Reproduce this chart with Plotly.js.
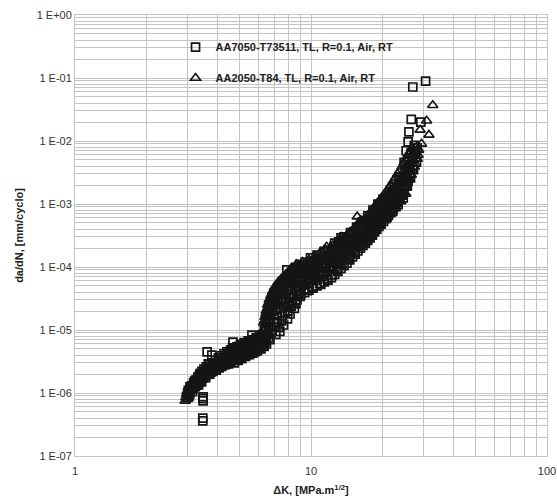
<!DOCTYPE html>
<html>
<head>
<meta charset="utf-8">
<script src="https://cdn.plot.ly/plotly-3.0.1.min.js"></script>
<style>html,body{margin:0;padding:0;background:#fff;}#chart{width:557px;height:498px;}</style>
</head>
<body>
<div id="chart"></div>
<script>
// Series names
const name7050 = "AA7050-T73511, TL, R=0.1, Air, RT";
const name2050 = "AA2050-T84, TL, R=0.1, Air, RT";

// AA7050-T73511 (squares): ΔK [MPa.m^1/2]
const k7050 = [
  3.00,3.05,3.08,3.12,3.15,3.18,3.22,3.25,3.28,3.32,3.35,3.38,3.42,3.45,3.48,3.52,3.55,3.60,3.63,3.65,
  3.70,3.75,3.80,3.82,3.88,3.93,4.00,4.05,4.10,4.16,4.22,4.28,4.33,4.40,4.45,4.50,4.56,4.62,4.67,4.70,
  4.76,4.82,4.88,4.95,5.00,5.06,5.12,5.18,5.25,5.32,5.38,5.45,5.52,5.58,5.62,5.68,5.75,5.82,5.90,5.96,
  6.02,6.10,6.18,6.25,3.49,3.49,3.49,3.48,3.48,
  6.30,6.35,6.40,6.45,6.50,6.55,6.60,6.65,6.70,6.75,6.80,6.85,6.90,6.95,7.00,7.05,7.10,7.15,7.20,7.25,
  7.30,7.35,7.40,7.45,7.50,7.55,7.60,7.65,7.70,7.75,7.80,7.85,7.90,7.95,8.00,8.05,8.10,8.15,8.20,8.28,
  8.35,8.42,8.50,8.58,8.65,8.72,8.80,8.88,8.96,9.05,9.15,
  9.25,9.35,9.45,9.55,9.65,9.75,9.85,9.95,10.05,10.15,10.3,10.45,10.6,10.75,10.9,11.05,11.2,11.35,11.5,11.7,
  11.9,12.1,12.3,12.5,12.7,12.9,13.1,13.3,13.5,13.8,14.1,14.4,14.7,15.0,15.3,15.6,15.9,16.2,16.5,16.8,
  17.1,17.4,17.7,18.0,18.3,18.6,18.9,19.2,19.5,19.8,
  20.2,20.6,21.0,21.4,21.8,22.2,22.6,23.0,23.4,23.8,24.2,24.6,25.0,25.4,25.8,26.0,26.2,26.6,26.6,27.0,
  27.0,27.4,27.8,28.2,29.2,30.6,25.8,24.8,25.3,
  3.02,3.07,3.13,3.17,3.21,3.24,3.30,3.34,3.37,3.41,
  3.44,3.50,3.54,3.58,3.62,3.67,3.72,3.77,3.84,3.90,
  3.97,4.03,4.08,4.13,4.19,4.26,4.31,4.37,4.43,4.48,
  4.53,4.59,4.65,4.73,4.79,4.85,4.91,4.98,5.03,5.09,
  5.15,5.21,5.28,5.35,5.42,5.49,5.55,5.65,5.72,5.79,
  5.86,5.93,6.00,6.07,6.14,6.21,
  6.33,6.42,6.48,6.58,6.63,6.72,6.78,6.88,6.98,7.08,
  7.18,7.28,7.38,7.48,7.58,7.68,7.78,7.88,7.98,8.08,
  8.18,8.25,8.32,8.45,8.55,8.62,8.75,8.85,8.92,9.00,
  9.10,9.20,9.40,9.60,9.80,10.0,10.2,10.4,10.55,10.8,
  11.0,11.25,11.45,11.6,11.8,12.0,12.2,12.4,12.6,12.8,
  13.0,13.2,13.4,13.65,13.95,14.25,14.55,14.85,15.15,15.45,
  15.75,16.05,16.35,16.65,16.95,17.25,17.55,17.85,18.15,18.45,
  18.75,19.05,19.35,19.65,20.0,20.4,20.8,21.2,21.6,22.0,
  22.4,22.8,23.2,23.6,24.0,24.4,24.8,25.2,25.6,26.0,
  26.4,26.8,27.2,27.6,28.0,
  8.6,9.0,9.4,9.8,10.2,10.6,11.0,11.4,11.8,12.2,
  12.6,13.0,13.4,13.8,14.2,14.6,15.0,15.4,15.8,16.2,
  16.6,17.0,17.4,17.8,18.2,18.6,19.0,19.4,19.8,20.3,
  20.8,21.3,21.8,22.3,22.8,23.3,23.8,24.3,24.8,25.3,
  25.8,26.3,
  8.8,9.2,9.6,10.0,10.4,10.8,11.2,11.6,12.0,12.4,
  12.8,13.2,13.6,14.0,14.4,14.8,15.2,15.6,16.0,16.4,
  16.8,17.2,17.6,18.0,18.4,18.8,19.2,19.6,20.0,20.5,
  21.0,21.5,22.0,22.5,23.0,23.5,24.0,24.5,25.0,25.5
];
// AA7050-T73511 (squares): da/dN [mm/cycle]
const da7050 = [
  1.0e-6,9.0e-7,1.15e-6,1.3e-6,1.05e-6,1.45e-6,1.25e-6,1.6e-6,1.35e-6,1.8e-6,1.5e-6,2.0e-6,1.6e-6,2.2e-6,1.75e-6,2.4e-6,1.9e-6,2.6e-6,4.5e-6,2.1e-6,
  2.8e-6,2.3e-6,4.0e-6,3.0e-6,2.5e-6,3.3e-6,2.7e-6,3.6e-6,2.9e-6,3.9e-6,3.1e-6,4.2e-6,3.3e-6,4.5e-6,3.0e-6,3.8e-6,4.8e-6,3.4e-6,6.4e-6,4.2e-6,
  5.1e-6,3.6e-6,4.6e-6,5.5e-6,3.9e-6,4.9e-6,5.9e-6,4.2e-6,5.3e-6,6.2e-6,4.5e-6,5.6e-6,6.6e-6,4.8e-6,8.3e-6,5.9e-6,7.0e-6,5.1e-6,6.3e-6,7.6e-6,
  5.4e-6,6.8e-6,8.4e-6,5.8e-6,8.7e-7,8.1e-7,7.5e-7,4.0e-7,3.6e-7,
  7.5e-6,1.0e-5,6.5e-6,1.3e-5,8.5e-6,1.7e-5,1.1e-5,2.3e-5,7.0e-6,1.5e-5,2.8e-5,1.0e-5,2.0e-5,3.4e-5,1.3e-5,2.6e-5,8.5e-6,4.0e-5,1.7e-5,3.2e-5,
  1.1e-5,4.7e-5,2.2e-5,3.8e-5,1.4e-5,5.5e-5,2.8e-5,1.2e-5,4.4e-5,1.9e-5,6.2e-5,3.3e-5,9.0e-5,1.5e-5,5.0e-5,2.4e-5,7.0e-5,1.8e-5,3.8e-5,8.0e-5,
  2.8e-5,5.6e-5,2.2e-5,9.5e-5,4.2e-5,3.0e-5,7.0e-5,4.6e-5,1.1e-4,3.6e-5,6.2e-5,
  9.0e-5,4.5e-5,1.2e-4,6.5e-5,4.2e-5,1.0e-4,5.5e-5,1.4e-4,7.5e-5,4.8e-5,1.15e-4,6.2e-5,1.55e-4,8.5e-5,5.5e-5,1.3e-4,7.2e-5,1.75e-4,9.5e-5,6.5e-5,
  1.5e-4,1.05e-4,7.5e-5,2.1e-4,1.3e-4,9.0e-5,2.5e-4,1.6e-4,1.1e-4,3.0e-4,1.9e-4,1.35e-4,3.5e-4,2.3e-4,1.7e-4,4.3e-4,2.9e-4,2.2e-4,5.2e-4,3.6e-4,
  2.7e-4,6.5e-4,4.4e-4,3.3e-4,8.0e-4,5.5e-4,4.1e-4,1.0e-3,6.8e-4,5.0e-4,
  1.2e-3,8.2e-4,6.2e-4,1.5e-3,1.0e-3,7.6e-4,1.9e-3,1.3e-3,9.8e-4,2.6e-3,1.7e-3,1.25e-3,3.3e-3,2.2e-3,5.0e-3,1.4e-2,3.0e-3,6.5e-3,2.2e-2,7.2e-2,
  4.0e-3,8.5e-3,5.5e-3,7.8e-3,2.0e-2,8.9e-2,9.7e-3,4.6e-3,7.0e-3,
  1.1e-6,1.25e-6,1.15e-6,1.3e-6,1.55e-6,1.4e-6,1.65e-6,1.35e-6,1.85e-6,2.05e-6,
  1.5e-6,1.9e-6,2.15e-6,1.75e-6,2.35e-6,2.9e-6,2.0e-6,2.6e-6,2.2e-6,2.85e-6,
  2.3e-6,3.0e-6,2.5e-6,3.4e-6,2.65e-6,3.7e-6,2.8e-6,3.5e-6,4.0e-6,2.9e-6,
  4.3e-6,3.1e-6,5.2e-6,3.0e-6,4.5e-6,5.4e-6,3.3e-6,4.9e-6,5.8e-6,3.5e-6,
  5.2e-6,6.3e-6,3.8e-6,5.0e-6,6.7e-6,4.1e-6,5.3e-6,7.0e-6,4.4e-6,6.0e-6,
  7.5e-6,4.7e-6,6.0e-6,8.0e-6,5.0e-6,6.8e-6,
  5.5e-6,9.5e-6,6.0e-6,1.4e-5,7.5e-6,1.9e-5,9.0e-6,2.5e-5,1.1e-5,2.1e-5,
  1.35e-5,2.5e-5,9.5e-6,3.0e-5,1.7e-5,3.6e-5,2.3e-5,4.2e-5,2.0e-5,3.2e-5,
  5.8e-5,2.4e-5,4.6e-5,3.4e-5,6.8e-5,2.7e-5,5.0e-5,3.8e-5,8.2e-5,4.2e-5,
  7.5e-5,5.2e-5,7.8e-5,9.0e-5,6.8e-5,1.15e-4,9.5e-5,7.2e-5,1.25e-4,1.05e-4,
  7.8e-5,1.4e-4,1.15e-4,8.5e-5,1.85e-4,1.25e-4,9.5e-5,1.7e-4,2.4e-4,1.15e-4,
  1.9e-4,1.3e-4,2.9e-4,2.1e-4,1.6e-4,2.5e-4,1.9e-4,2.8e-4,2.0e-4,3.4e-4,
  2.5e-4,3.8e-4,2.8e-4,4.3e-4,3.2e-4,5.2e-4,3.8e-4,5.6e-4,4.3e-4,6.8e-4,
  5.0e-4,8.0e-4,5.8e-4,8.8e-4,6.5e-4,1.0e-3,7.2e-4,1.2e-3,8.8e-4,1.35e-3,
  1.0e-3,1.6e-3,1.15e-3,2.0e-3,1.4e-3,2.3e-3,1.7e-3,2.7e-3,2.0e-3,4.0e-3,
  2.6e-3,5.0e-3,3.5e-3,6.8e-3,4.6e-3,
  2.6e-5,3.4e-5,3.9e-5,4.3e-5,4.6e-5,5.0e-5,5.3e-5,5.8e-5,6.2e-5,6.8e-5,
  7.6e-5,8.5e-5,9.5e-5,1.05e-4,1.15e-4,1.3e-4,1.45e-4,1.6e-4,1.8e-4,2.0e-4,
  2.2e-4,2.4e-4,2.65e-4,2.9e-4,3.2e-4,3.6e-4,4.0e-4,4.4e-4,4.8e-4,5.3e-4,
  5.9e-4,6.6e-4,7.4e-4,8.2e-4,9.2e-4,1.05e-3,1.2e-3,1.4e-3,1.65e-3,1.95e-3,
  2.3e-3,2.8e-3,
  6.5e-5,7.0e-5,6.2e-5,8.0e-5,8.8e-5,7.8e-5,1.0e-4,1.1e-4,9.8e-5,1.3e-4,
  1.45e-4,1.35e-4,1.7e-4,1.85e-4,1.7e-4,2.2e-4,2.5e-4,2.3e-4,3.0e-4,3.3e-4,
  3.0e-4,4.0e-4,4.4e-4,4.0e-4,5.4e-4,6.0e-4,5.5e-4,7.4e-4,8.2e-4,7.5e-4,
  1.0e-3,1.15e-3,1.05e-3,1.4e-3,1.6e-3,1.5e-3,2.0e-3,2.3e-3,2.2e-3,3.0e-3
];

// AA2050-T84 (triangles): ΔK [MPa.m^1/2]
const k2050 = [
  2.93,2.95,2.97,3.00,3.03,3.06,3.10,3.14,3.18,3.22,3.26,3.30,3.35,3.40,3.45,3.50,3.56,3.62,3.68,3.74,
  3.80,3.87,3.94,4.01,4.08,4.15,4.23,4.31,4.39,4.47,4.55,4.63,4.72,4.81,4.90,4.99,5.08,5.17,5.27,5.37,
  5.47,5.57,5.67,5.77,5.87,5.97,6.05,6.12,6.20,6.27,
  6.30,6.34,6.38,6.42,6.46,6.50,6.55,6.60,6.65,6.70,6.76,6.82,6.88,6.94,7.00,7.07,7.14,7.21,7.28,7.36,
  7.44,7.52,7.60,7.70,7.80,7.90,8.00,8.12,8.24,8.36,8.48,8.67,8.80,8.95,9.10,
  9.30,9.50,9.70,9.90,10.1,10.3,10.5,10.7,10.9,11.1,11.3,11.5,11.8,12.1,12.4,12.7,13.0,13.3,13.6,13.9,
  14.2,14.5,14.8,15.1,15.4,15.7,15.8,16.1,16.4,16.7,17.0,17.3,17.6,17.9,18.2,18.5,18.8,19.1,19.4,19.7,
  20.0,20.4,20.8,21.2,21.6,22.0,22.4,22.8,23.2,23.6,24.0,24.4,24.8,25.2,25.6,26.0,26.4,26.8,27.2,27.6,
  28.0,28.4,29.0,29.4,30.9,31.6,32.8,
  2.98,3.04,3.08,3.12,3.16,3.20,3.24,3.28,3.33,3.38,
  3.43,3.48,3.53,3.59,3.65,3.71,3.77,3.84,3.91,3.98,
  4.05,4.12,4.19,4.27,4.35,4.43,4.51,4.59,4.67,4.76,
  4.85,4.94,5.03,5.12,5.22,5.32,5.42,5.52,5.62,5.72,
  5.82,5.92,6.01,6.09,6.16,6.24,
  6.32,6.36,6.40,6.44,6.48,6.53,6.57,6.62,6.67,6.73,
  6.79,6.85,6.91,6.97,7.04,7.11,7.18,7.25,7.32,7.40,
  7.48,7.56,7.65,7.75,7.85,7.95,8.06,8.18,8.30,8.42,
  8.56,8.72,8.88,9.02,9.20,9.40,9.60,9.80,10.0,10.2,
  10.4,10.6,10.8,11.0,11.2,11.4,11.65,11.95,12.25,12.55,
  12.85,13.15,13.45,13.75,14.05,14.35,14.65,14.95,15.25,15.55,
  15.85,16.25,16.55,16.85,17.15,17.45,17.75,18.05,18.35,18.65,
  18.95,19.25,19.55,19.85,20.2,20.6,21.0,21.4,21.8,22.2,
  22.6,23.0,23.4,23.8,24.2,24.6,25.0,25.4,25.8,26.2,
  26.6,27.0,27.4,27.8,28.2,28.6,
  8.3,8.6,9.0,9.4,9.8,10.2,10.6,11.0,11.4,11.8,
  12.2,12.6,13.0,13.4,13.8,14.2,14.6,15.0,15.4,15.8,
  16.2,16.6,17.0,17.4,17.8,18.2,18.6,19.0,19.4,19.8,
  20.3,20.8,21.3,21.8,22.3,22.8,23.3,23.8,24.3,24.8,
  25.3,25.8,26.3,26.8
];
// AA2050-T84 (triangles): da/dN [mm/cycle]
const da2050 = [
  7.5e-7,8.5e-7,9.5e-7,8.0e-7,1.1e-6,9.8e-7,1.25e-6,1.1e-6,1.4e-6,1.2e-6,1.55e-6,1.35e-6,1.75e-6,1.5e-6,1.95e-6,1.65e-6,2.2e-6,1.85e-6,2.45e-6,2.0e-6,
  2.7e-6,2.2e-6,2.95e-6,2.4e-6,3.2e-6,2.6e-6,3.5e-6,2.85e-6,3.75e-6,3.1e-6,4.0e-6,3.3e-6,4.3e-6,3.5e-6,4.5e-6,3.7e-6,4.8e-6,3.9e-6,5.0e-6,4.1e-6,
  5.3e-6,4.4e-6,5.6e-6,4.6e-6,6.0e-6,4.9e-6,6.6e-6,8.0e-6,5.6e-6,1.0e-5,
  1.3e-5,8.0e-6,1.6e-5,1.05e-5,2.0e-5,1.35e-5,2.5e-5,1.7e-5,3.0e-5,2.1e-5,3.5e-5,2.5e-5,4.1e-5,3.0e-5,4.7e-5,3.5e-5,5.2e-5,4.0e-5,5.8e-5,4.5e-5,
  6.3e-5,5.0e-5,6.8e-5,5.4e-5,7.5e-5,5.9e-5,8.2e-5,6.4e-5,9.0e-5,7.0e-5,5.2e-5,1.1e-4,8.0e-5,6.0e-5,1.0e-4,
  7.2e-5,5.2e-5,1.15e-4,8.2e-5,6.0e-5,1.35e-4,9.5e-5,7.0e-5,1.6e-4,1.1e-4,8.0e-5,1.9e-4,1.25e-4,9.0e-5,2.2e-4,1.5e-4,1.1e-4,2.7e-4,1.85e-4,1.35e-4,
  3.2e-4,2.2e-4,1.6e-4,3.9e-4,2.7e-4,6.3e-4,2.0e-4,4.7e-4,3.2e-4,2.4e-4,5.6e-4,3.9e-4,2.9e-4,7.0e-4,4.8e-4,3.6e-4,8.6e-4,6.0e-4,4.5e-4,1.1e-3,
  7.4e-4,5.5e-4,1.35e-3,9.0e-4,6.8e-4,1.65e-3,1.1e-3,8.5e-4,2.1e-3,1.4e-3,1.1e-3,2.8e-3,1.9e-3,1.45e-3,3.8e-3,2.6e-3,4.8e-3,3.4e-3,6.0e-3,4.4e-3,
  8.0e-3,6.0e-3,1.5e-2,9.0e-3,2.1e-2,1.25e-2,3.7e-2,
  1.05e-6,9.0e-7,1.15e-6,1.35e-6,1.2e-6,1.5e-6,1.3e-6,1.7e-6,1.45e-6,1.9e-6,
  1.6e-6,2.1e-6,1.8e-6,2.35e-6,2.0e-6,2.6e-6,2.15e-6,2.85e-6,2.35e-6,3.1e-6,
  2.55e-6,3.4e-6,2.75e-6,3.7e-6,2.7e-6,4.3e-6,2.9e-6,4.7e-6,3.5e-6,5.0e-6,
  3.2e-6,5.4e-6,3.4e-6,5.7e-6,3.6e-6,6.0e-6,3.8e-6,6.4e-6,4.0e-6,6.8e-6,
  4.3e-6,7.2e-6,5.2e-6,7.2e-6,9.0e-6,6.2e-6,
  1.0e-5,1.4e-5,1.2e-5,1.8e-5,1.6e-5,2.2e-5,1.9e-5,2.7e-5,2.4e-5,3.2e-5,
  2.8e-5,3.8e-5,3.4e-5,4.3e-5,4.0e-5,4.8e-5,4.5e-5,5.4e-5,5.0e-5,5.8e-5,
  5.5e-5,6.2e-5,6.0e-5,6.7e-5,6.4e-5,7.2e-5,7.0e-5,7.8e-5,8.2e-5,9.5e-5,
  7.5e-5,9.0e-5,1.05e-4,8.5e-5,1.2e-4,9.5e-5,7.8e-5,1.3e-4,1.05e-4,8.5e-5,
  1.5e-4,1.2e-4,9.5e-5,1.75e-4,1.35e-4,1.05e-4,2.1e-4,1.55e-4,1.9e-4,1.3e-4,
  2.3e-4,1.7e-4,3.0e-4,2.4e-4,2.0e-4,2.7e-4,3.6e-4,2.4e-4,3.2e-4,4.5e-4,
  3.5e-4,5.5e-4,4.0e-4,3.0e-4,4.8e-4,6.3e-4,3.6e-4,5.8e-4,7.8e-4,4.3e-4,
  7.0e-4,9.5e-4,5.3e-4,8.5e-4,1.2e-3,6.5e-4,1.05e-3,1.45e-3,8.0e-4,1.3e-3,
  1.8e-3,1.0e-3,1.6e-3,2.4e-3,1.3e-3,2.2e-3,3.1e-3,1.8e-3,3.2e-3,4.2e-3,
  2.9e-3,5.2e-3,3.9e-3,6.8e-3,5.2e-3,7.2e-3,
  9.8e-5,1.02e-4,1.05e-4,1.1e-4,1.18e-4,1.25e-4,1.35e-4,1.45e-4,1.55e-4,1.7e-4,
  1.85e-4,2.05e-4,2.3e-4,2.6e-4,2.9e-4,3.1e-4,3.4e-4,3.7e-4,4.1e-4,4.5e-4,
  4.9e-4,5.4e-4,5.9e-4,6.5e-4,7.2e-4,8.0e-4,9.0e-4,1.0e-3,1.1e-3,1.2e-3,
  1.35e-3,1.55e-3,1.75e-3,2.0e-3,2.3e-3,2.6e-3,3.0e-3,3.4e-3,3.9e-3,4.5e-3,
  5.2e-3,6.0e-3,6.8e-3,7.8e-3
];

// Axis tick labels
const xTickVals = [1, 10, 100];
const xTickText = ["1", "10", "100"];
const yTickVals = [1e-7, 1e-6, 1e-5, 1e-4, 1e-3, 1e-2, 1e-1, 1];
const yTickText = ["1 E-07", "1 E-06", "1 E-05", "1 E-04", "1 E-03", "1 E-02", "1 E-01", "1 E+00"];

// minor grid positions (2..9 per decade)
function minorGrid(d0, d1) {
  const out = [];
  for (let d = d0; d < d1; d++) for (let m = 2; m <= 9; m++) out.push(m * Math.pow(10, d));
  return out;
}

const gridCol = "#c4c4c4";
const markLine = "#151515";
const baseFont = "'Liberation Sans Narrow', 'Liberation Sans', Arial, sans-serif";

const traces = [
  {
    x: k7050, y: da7050, name: name7050, type: "scatter", mode: "markers",
    marker: { symbol: "square-open", size: 8, color: markLine, line: { width: 1.7, color: markLine } },
    legend: "legend"
  },
  {
    x: k2050, y: da2050, name: name2050, type: "scatter", mode: "markers",
    marker: { symbol: "triangle-up-open", size: 9, color: markLine, line: { width: 1.6, color: markLine } },
    legend: "legend2"
  }
];

const legendBase = {
  bgcolor: "rgba(0,0,0,0)", borderwidth: 0, itemwidth: 30,
  font: { family: baseFont, size: 11, color: "#222", weight: "bold" },
  xanchor: "left", yanchor: "middle", x: 0.213
};

const layout = {
  width: 557, height: 498,
  margin: { l: 75, r: 10, t: 15, b: 42 },
  paper_bgcolor: "#fff", plot_bgcolor: "#fff",
  font: { family: baseFont, size: 11, color: "#333" },
  showlegend: true,
  legend: Object.assign({}, legendBase, { y: 0.927 }),
  legend2: Object.assign({}, legendBase, { y: 0.857 }),
  xaxis: {
    type: "log", range: [0, 2],
    tickmode: "array", tickvals: xTickVals, ticktext: xTickText,
    showgrid: true, gridcolor: gridCol, gridwidth: 1,
    minor: { showgrid: true, gridcolor: gridCol, gridwidth: 1, tickmode: "array", tickvals: minorGrid(0, 2) },
    showline: true, linecolor: gridCol, linewidth: 1, mirror: true,
    zeroline: false, ticks: "", ticklabelstandoff: 5,
    tickfont: { family: baseFont, size: 11, color: "#333" },
    title: { text: "ΔK, [MPa.m<sup>1/2</sup>]", font: { family: baseFont, size: 11, color: "#222", weight: "bold" }, standoff: 10 }
  },
  yaxis: {
    type: "log", range: [-7, 0],
    tickmode: "array", tickvals: yTickVals, ticktext: yTickText,
    showgrid: true, gridcolor: gridCol, gridwidth: 1,
    minor: { showgrid: true, gridcolor: gridCol, gridwidth: 1, tickmode: "array", tickvals: minorGrid(-7, 0) },
    showline: true, linecolor: gridCol, linewidth: 1, mirror: true,
    zeroline: false, ticks: "",
    tickfont: { family: baseFont, size: 11, color: "#333" },
    title: { text: "da/dN, [mm/cyclo]", font: { family: baseFont, size: 11, color: "#222", weight: "bold" }, standoff: 10 }
  }
};

Plotly.newPlot("chart", traces, layout, { displayModeBar: false, staticPlot: true });
</script>
</body>
</html>
